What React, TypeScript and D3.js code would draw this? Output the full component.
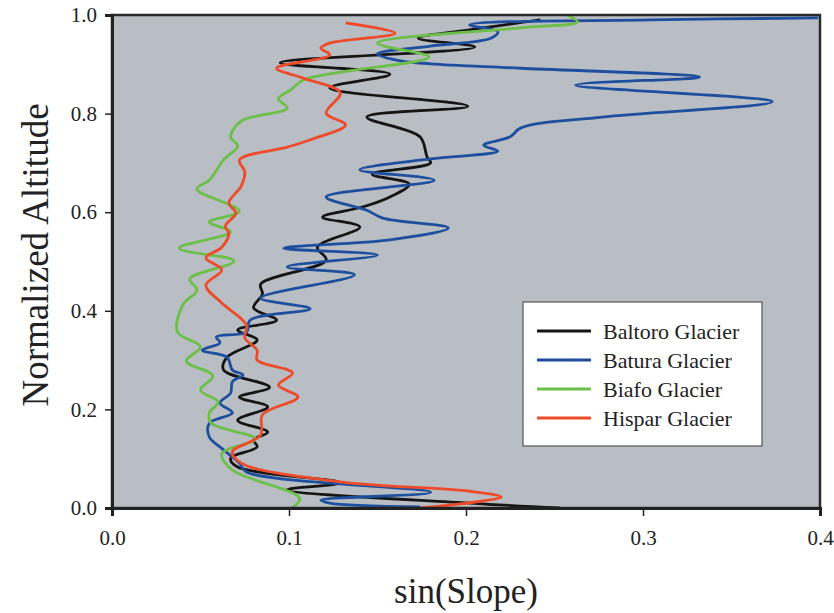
import { useEffect, useRef } from 'react';
import * as d3 from 'd3';

const xTicks = [0, 0.1, 0.2, 0.3, 0.4];
const yTicks = [0, 0.2, 0.4, 0.6, 0.8, 1.0];

const glacierNames = ['Baltoro Glacier', 'Batura Glacier', 'Biafo Glacier', 'Hispar Glacier'];

const baltoroAlt = [0.99, 0.97, 0.953, 0.935, 0.903, 0.88, 0.852, 0.815, 0.793, 0.753, 0.712, 0.7, 0.677, 0.657, 0.631, 0.611, 0.59, 0.57, 0.529, 0.503, 0.454, 0.434, 0.406, 0.381, 0.361, 0.341, 0.306, 0.28, 0.245, 0.225, 0.205, 0.178, 0.154, 0.138, 0.124, 0.101, 0.083, 0.051, 0.037, 0.01, 0.0];
const baltoroSlope = [0.242, 0.202, 0.173, 0.205, 0.095, 0.157, 0.123, 0.201, 0.144, 0.174, 0.178, 0.18, 0.147, 0.168, 0.157, 0.142, 0.119, 0.14, 0.116, 0.121, 0.084, 0.085, 0.08, 0.093, 0.071, 0.082, 0.065, 0.063, 0.089, 0.072, 0.088, 0.071, 0.088, 0.08, 0.082, 0.067, 0.071, 0.129, 0.099, 0.202, 0.253];

const baturaAlt = [0.994, 0.99, 0.98, 0.966, 0.953, 0.937, 0.921, 0.907, 0.901, 0.892, 0.874, 0.858, 0.824, 0.793, 0.771, 0.753, 0.736, 0.724, 0.708, 0.686, 0.665, 0.631, 0.604, 0.588, 0.568, 0.544, 0.527, 0.513, 0.489, 0.473, 0.426, 0.404, 0.381, 0.357, 0.347, 0.335, 0.32, 0.306, 0.28, 0.27, 0.256, 0.233, 0.213, 0.193, 0.172, 0.144, 0.118, 0.091, 0.073, 0.032, 0.016, 0.01, 0.002];
const baturaSlope = [0.399, 0.304, 0.202, 0.218, 0.214, 0.18, 0.15, 0.163, 0.18, 0.231, 0.332, 0.262, 0.373, 0.277, 0.231, 0.225, 0.21, 0.218, 0.18, 0.14, 0.182, 0.121, 0.144, 0.153, 0.19, 0.157, 0.097, 0.15, 0.099, 0.137, 0.084, 0.112, 0.078, 0.076, 0.059, 0.061, 0.051, 0.065, 0.068, 0.074, 0.068, 0.067, 0.061, 0.068, 0.055, 0.055, 0.063, 0.072, 0.076, 0.18, 0.118, 0.123, 0.174];

const biafoAlt = [1.0, 0.986, 0.974, 0.943, 0.915, 0.884, 0.868, 0.848, 0.83, 0.811, 0.785, 0.753, 0.734, 0.706, 0.665, 0.647, 0.602, 0.58, 0.56, 0.527, 0.501, 0.465, 0.442, 0.412, 0.357, 0.327, 0.298, 0.268, 0.239, 0.215, 0.193, 0.172, 0.14, 0.11, 0.077, 0.02, 0.0];
const biafoSlope = [0.257, 0.263, 0.231, 0.15, 0.179, 0.129, 0.108, 0.101, 0.094, 0.099, 0.073, 0.067, 0.071, 0.063, 0.055, 0.048, 0.072, 0.055, 0.067, 0.038, 0.069, 0.044, 0.048, 0.04, 0.037, 0.05, 0.042, 0.057, 0.05, 0.06, 0.055, 0.056, 0.081, 0.062, 0.068, 0.106, 0.102];

const hisparAlt = [0.984, 0.963, 0.943, 0.933, 0.919, 0.892, 0.872, 0.842, 0.801, 0.777, 0.748, 0.732, 0.706, 0.682, 0.653, 0.619, 0.598, 0.572, 0.556, 0.529, 0.507, 0.483, 0.452, 0.416, 0.371, 0.345, 0.32, 0.3, 0.274, 0.249, 0.225, 0.189, 0.148, 0.114, 0.091, 0.053, 0.034, 0.022, 0.0];
const hisparSlope = [0.132, 0.16, 0.123, 0.118, 0.123, 0.093, 0.108, 0.129, 0.121, 0.132, 0.113, 0.099, 0.072, 0.075, 0.073, 0.066, 0.07, 0.064, 0.066, 0.062, 0.053, 0.062, 0.053, 0.062, 0.076, 0.075, 0.082, 0.082, 0.102, 0.094, 0.105, 0.085, 0.084, 0.068, 0.073, 0.129, 0.202, 0.22, 0.174];

const colors = ['#151515', '#1e4f9e', '#6cbf48', '#ee4b2b'];

const App = () => {
	const svgRef = useRef<SVGSVGElement>(null);

	useEffect(() => {
		if (!svgRef.current) return;
		const svg = d3.select(svgRef.current);
		svg.selectAll('*').remove();

		const left = 112;
		const right = 820;
		const top = 15;
		const bottom = 508;
		const font = 'Liberation Serif, Times New Roman, serif';

		const x = d3.scaleLinear().domain([0, 0.4]).range([left, right]);
		const y = d3.scaleLinear().domain([0, 1]).range([bottom, top]);

		svg.append('rect')
			.attr('x', left)
			.attr('y', top)
			.attr('width', right - left)
			.attr('height', bottom - top)
			.attr('fill', '#b9bec4');

		const series = [
			{ alt: baltoroAlt, slope: baltoroSlope },
			{ alt: baturaAlt, slope: baturaSlope },
			{ alt: biafoAlt, slope: biafoSlope },
			{ alt: hisparAlt, slope: hisparSlope },
		];

		const line = d3
			.line<[number, number]>()
			.x((d) => x(d[0]))
			.y((d) => y(d[1]))
			.curve(d3.curveCatmullRom.alpha(0.5));

		series.forEach((s, i) => {
			const pts = s.alt.map((a, j) => [s.slope[j], a] as [number, number]);
			svg.append('path')
				.attr('d', line(pts) ?? '')
				.attr('fill', 'none')
				.attr('stroke', colors[i])
				.attr('stroke-width', 2.8)
				.attr('stroke-linejoin', 'round');
		});

		// frame
		svg.append('rect')
			.attr('x', left)
			.attr('y', top)
			.attr('width', right - left)
			.attr('height', bottom - top)
			.attr('fill', 'none')
			.attr('stroke', '#2a2a2a')
			.attr('stroke-width', 2.5);

		const xAxis = svg
			.append('g')
			.attr('transform', `translate(0,${bottom})`)
			.call(
				d3.axisBottom(x)
					.tickValues(xTicks)
					.tickFormat(d3.format('.1f'))
					.tickSize(8)
					.tickPadding(14)
			);
		const yAxis = svg
			.append('g')
			.attr('transform', `translate(${left},0)`)
			.call(
				d3.axisLeft(y)
					.tickValues(yTicks)
					.tickFormat(d3.format('.1f'))
					.tickSize(7)
					.tickPadding(8)
			);
		[xAxis, yAxis].forEach((g) => {
			g.attr('font-family', font).attr('font-size', 21);
			g.select('.domain').attr('stroke', '#222').attr('stroke-width', 3);
			g.selectAll('.tick line').attr('stroke', '#222').attr('stroke-width', 1.5);
			g.selectAll('.tick text')
				.attr('fill', '#222')
				.attr('font-family', font)
				.attr('font-size', 21);
		});

		svg.append('text')
			.text('sin(Slope)')
			.attr('x', (left + right) / 2)
			.attr('y', 603)
			.attr('text-anchor', 'middle')
			.attr('fill', '#222')
			.attr('font-family', font)
			.attr('font-size', 35);

		svg.append('text')
			.text('Normalized Altitude')
			.attr('transform', `translate(48,255) rotate(-90)`)
			.attr('text-anchor', 'middle')
			.attr('fill', '#222')
			.attr('font-family', font)
			.attr('font-size', 37);

		// legend
		const lg = svg.append('g');
		lg.append('rect')
			.attr('x', 523)
			.attr('y', 302)
			.attr('width', 239)
			.attr('height', 144)
			.attr('fill', '#ffffff')
			.attr('stroke', '#555')
			.attr('stroke-width', 1.2);
		glacierNames.forEach((name, i) => {
			const cy = 331 + i * 29;
			lg.append('line')
				.attr('x1', 537)
				.attr('x2', 591)
				.attr('y1', cy)
				.attr('y2', cy)
				.attr('stroke', colors[i])
				.attr('stroke-width', 2.8);
			lg.append('text')
				.text(name)
				.attr('x', 603)
				.attr('y', cy)
				.attr('dy', '0.35em')
				.attr('fill', '#222')
				.attr('font-family', font)
				.attr('font-size', 22);
		});
	}, []);

	return (
		<svg
			ref={svgRef}
			width={834}
			height={613}
			style={{ position: 'absolute', left: 0, top: 0, background: '#fff' }}
		></svg>
	);
};

export default App;
